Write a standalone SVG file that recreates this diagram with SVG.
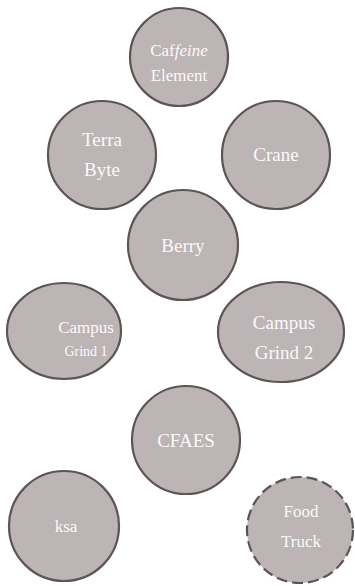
<svg xmlns="http://www.w3.org/2000/svg" width="355" height="586" viewBox="0 0 355 586">
<style>
.n{fill:#bcb4b5;stroke:#5f5455;stroke-width:2.2}
.d{stroke-dasharray:11 5}
.t{fill:#fbf9f9;text-anchor:middle}
.f19{font-size:19px}
.f17{font-size:17px}
.f14{font-size:14px}
</style>
<rect width="355" height="586" fill="#ffffff"/>
<g id="connectors"/>
<g font-family="Liberation Serif, DejaVu Serif, serif">
<g id="caffeine">
<circle class="n" cx="179" cy="57" r="49"/>
<text class="t f17" x="179" y="56">Caf<tspan font-style="italic">feine</tspan></text>
<text class="t f17" x="179" y="81">Element</text>
</g>
<g id="terrabyte">
<circle class="n" cx="102" cy="155" r="54"/>
<text class="t f19" x="102" y="146">Terra</text>
<text class="t f19" x="102" y="176">Byte</text>
</g>
<g id="crane">
<circle class="n" cx="276" cy="155" r="54"/>
<text class="t f19" x="276" y="161">Crane</text>
</g>
<g id="berry">
<circle class="n" cx="183" cy="245" r="55"/>
<text class="t f19" x="183" y="252">Berry</text>
</g>
<g id="campusgrind1">
<ellipse class="n" cx="64" cy="331" rx="57" ry="48"/>
<text class="t f17" x="86" y="333">Campus</text>
<text class="t f14" x="86" y="356">Grind 1</text>
</g>
<g id="campusgrind2">
<ellipse class="n" cx="281" cy="332" rx="63" ry="50"/>
<text class="t f19" x="284" y="329">Campus</text>
<text class="t f19" x="284" y="359">Grind 2</text>
</g>
<g id="cfaes">
<circle class="n" cx="186" cy="440" r="54"/>
<text class="t f19" x="186" y="447">CFAES</text>
</g>
<g id="ksa">
<circle class="n" cx="64" cy="526" r="55"/>
<text class="t f17" x="66" y="532">ksa</text>
</g>
<g id="foodtruck">
<circle class="n d" cx="300" cy="530" r="53"/>
<text class="t f17" x="301" y="517">Food</text>
<text class="t f17" x="301" y="547">Truck</text>
</g>
</g>
</svg>
